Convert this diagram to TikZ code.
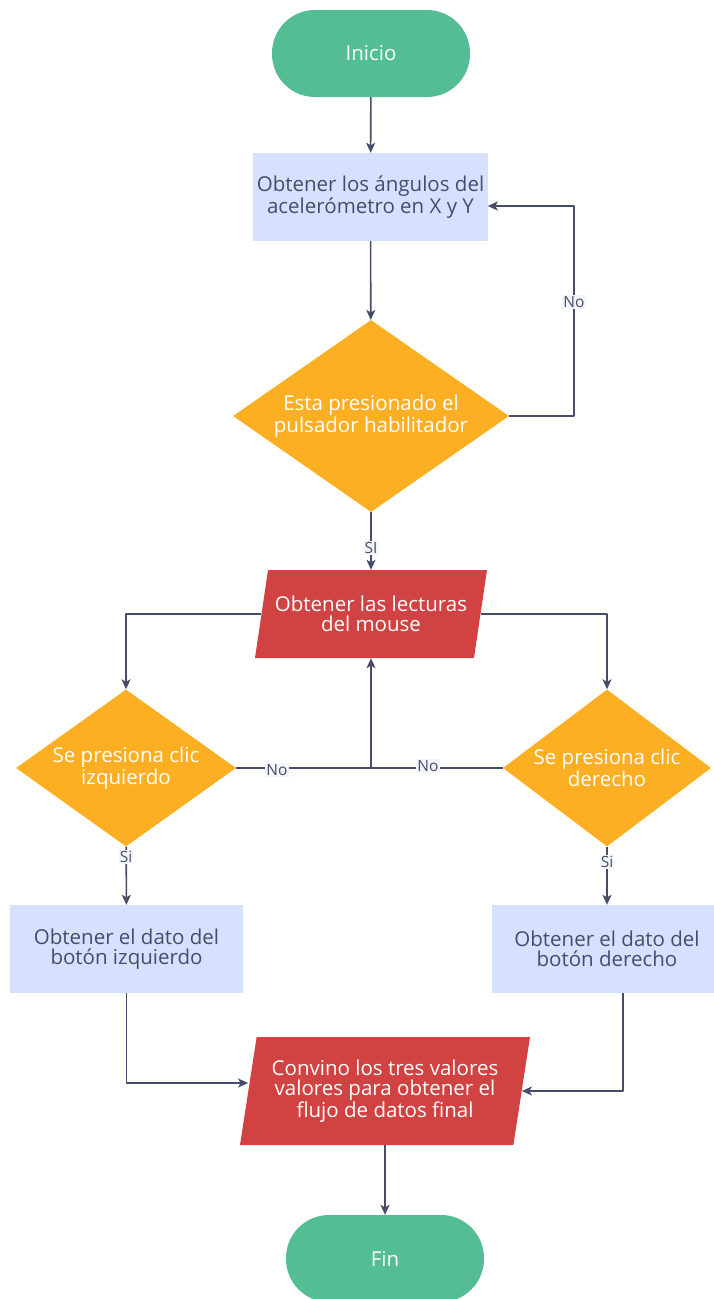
\documentclass[tikz,border=0pt]{standalone}
\usepackage{fontspec}
\setmainfont{Open Sans}
\usetikzlibrary{shapes.geometric,arrows.meta}
\definecolor{termgreen}{RGB}{84,189,148}
\definecolor{procblue}{RGB}{214,224,255}
\definecolor{decorange}{RGB}{253,175,35}
\definecolor{iored}{RGB}{209,67,67}
\definecolor{linegrey}{RGB}{71,77,102}
\definecolor{lblbg}{RGB}{243,246,252}
\begin{document}
\begin{tikzpicture}[>={Stealth[length=10pt,width=9pt,inset=2.5pt]},line join=bevel,x=1pt,y=-1pt,
  every node/.style={font=\fontsize{20.5}{20}\selectfont,align=center},
  terminal/.style={rectangle,rounded corners=43pt,fill=termgreen,text=white,minimum width=198pt,minimum height=87pt},
  process/.style={rectangle,fill=procblue,text=linegrey,minimum width=233pt,minimum height=88pt},
  decision/.style={diamond,fill=decorange,text=white,inner sep=0pt,aspect=1.4},
  inout/.style={trapezium,trapezium stretches body,fill=iored,text=white,inner sep=0pt},
  flow/.style={draw=linegrey,line width=1.6pt},
  lbl/.style={fill=lblbg,text=linegrey,font=\fontsize{15.5}{15}\selectfont,inner sep=1pt},]
\useasboundingbox (0,0) rectangle (714,1299);
%%
\node (node_0) at (371,53.5) [terminal] {Inicio};
  \node (node_1) at (370.5,197) [process] {Obtener los ángulos del\\acelerómetro en X y Y};
  \node (node_2) at (371,416) [decision,minimum width=276pt,minimum height=192pt] {Esta presionado el\\pulsador habilitador};
  \node (node_3) at (371,614) [inout,trapezium left angle=70,trapezium right angle=110,minimum width=232pt,minimum height=88pt] {Obtener las lecturas\\del mouse};
  \node (node_4) at (126,768) [decision,minimum width=220pt,minimum height=157pt] {Se presiona clic\\izquierdo};
  \node (node_5) at (607,768) [decision,minimum width=208pt,minimum height=157pt] {Se presiona clic\\derecho};
  \node (node_6) at (126.5,949) [process] {Obtener el dato del\\botón izquierdo};
  \node (node_7) at (607,949) [process,minimum width=230pt] {Obtener el dato del\\botón derecho};
  \node (node_8) at (385,1091) [inout,trapezium left angle=75,trapezium right angle=105,minimum width=290pt,minimum height=108pt] {Convino los tres valores\\valores para obtener el\\flujo de datos final};
  \node (node_9) at (385,1258.5) [terminal] {Fin};
  \coordinate (join_0) at (node_3.center |- node_4.east);
%
  \draw [flow,->] (node_0) -- (node_1);
  \draw [flow,->] (node_1) -- (node_2);
  \draw [flow,->] (node_2.east) -- ++(65,0) |- ([yshift=-9pt]node_1.east);
  \draw [flow,->] (node_2) -- (node_3);
  \draw [flow,->] (node_3.west) -| (node_4.north);
  \draw [flow,->] (node_3.east) -| (node_5.north);
  \draw [flow] (node_4.east) -- (join_0);
  \draw [flow] (node_5.west) -- (join_0);
  \draw [flow,->] (join_0) -- (node_3);
  \draw [flow,->] (node_4) -- (node_6);
  \draw [flow,->] (node_5.south) -- (node_5.south |- node_7.north);
  \draw [flow,->] (node_6.south) |- ([yshift=8pt]node_8.west);
  \draw [flow,->] ([xshift=16pt]node_7.south) |- (node_8.east);
  \draw [flow,->] (node_8) -- (node_9);
%
  \node (lbl_0) at (574,302) [lbl] {No};
  \node (lbl_1) at (371,548) [lbl] {SI};
  \node (lbl_2) at (277,770) [lbl] {No};
  \node (lbl_3) at (428,766) [lbl] {No};
  \node (lbl_4) at (126,857) [lbl] {Si};
  \node (lbl_5) at (607,862) [lbl] {Si};
%
\end{tikzpicture}
\end{document}
